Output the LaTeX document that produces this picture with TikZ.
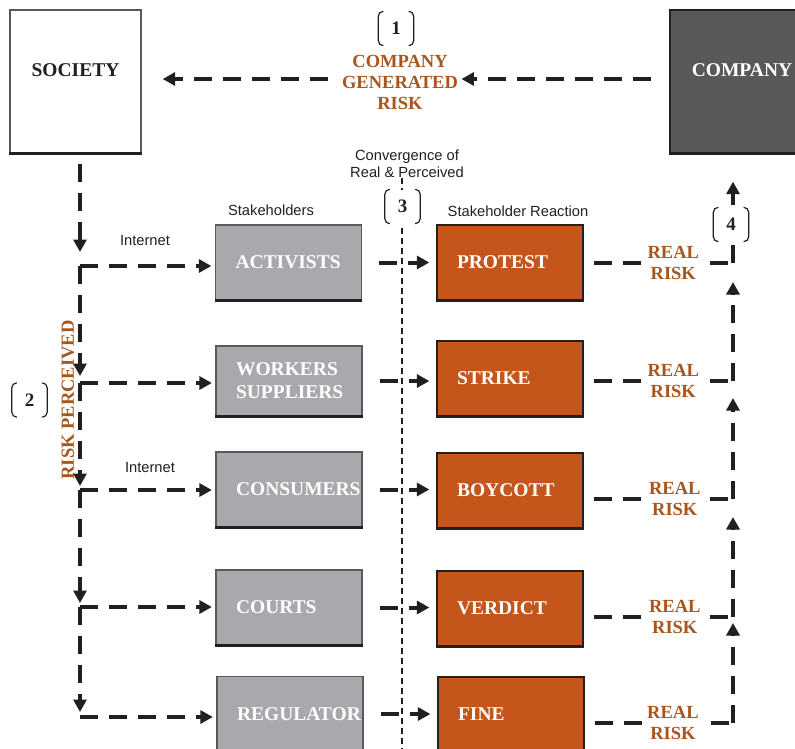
\documentclass[tikz,border=0pt]{standalone}
\usepackage{fontspec}
\setmainfont{Liberation Serif}
\newfontfamily\labelsans{Liberation Sans}
\usetikzlibrary{arrows.meta}

\definecolor{stakegray}{HTML}{A7A9AC}
\definecolor{reactorange}{HTML}{C4561B}
\definecolor{riskbrown}{HTML}{A9561E}
\definecolor{companygray}{HTML}{58595B}
\definecolor{inkblack}{HTML}{231F20}
\definecolor{frameline}{HTML}{58595B}

\tikzset{
  flowline/.style={draw=inkblack, line width=4pt, dash pattern=on 18pt off 11pt},
  flow/.style={flowline, -{Triangle[length=12.5pt,width=13pt]}},
  divider/.style={draw=inkblack, line width=1.3pt, dash pattern=on 6pt off 4pt},
  baseedge/.style={draw=inkblack, line width=2.6pt},
  boxtext/.style={font=\fontsize{19.5}{23}\selectfont\bfseries},
  basebox/.style={rectangle, minimum width=146pt, minimum height=75pt,
    inner xsep=20pt, inner ysep=0pt, text width=106pt, align=left,
    boxtext, text=white, line width=1.3pt},
  stakebox/.style={basebox, fill=stakegray, draw=frameline},
  reactbox/.style={basebox, fill=reactorange, draw=inkblack},
  riskword/.style={font=\fontsize{18.5}{21}\selectfont\bfseries, text=riskbrown, align=center},
  risklabel/.style={riskword, fill=white, inner xsep=4pt, inner ysep=1pt},
  note/.style={font=\labelsans\fontsize{14.7}{17}\selectfont, text=inkblack, align=center, inner sep=0pt},
  tag/.style={minimum width=35pt, minimum height=34pt, inner sep=0pt, fill=white,
    font=\fontsize{19}{19}\selectfont\bfseries, text=inkblack},
  tagline/.style={draw=inkblack, line width=1.2pt, rounded corners=5pt},
}

% square brackets drawn around a numbered tag
\newcommand\tagmarks[1]{%
  \draw[tagline] ([xshift=5pt]#1.north west) -- (#1.north west) -- (#1.south west) -- ([xshift=5pt]#1.south west);
  \draw[tagline] ([xshift=-5pt]#1.north east) -- (#1.north east) -- (#1.south east) -- ([xshift=-5pt]#1.south east);}

\begin{document}
\begin{tikzpicture}[x=1pt, y=-1pt]
\useasboundingbox (0,0) rectangle (795,748);
\clip (0,0) rectangle (795,748);
\fill[white] (0,0) rectangle (795,748);

% top row
\node[rectangle, minimum width=131pt, minimum height=143pt, fill=white, draw=frameline, line width=1.3pt,
      label={[boxtext, text=inkblack, yshift=11.5pt]center:SOCIETY}] (society) at (75.5,81.5) {};
\node[rectangle, minimum width=140pt, minimum height=143pt, fill=companygray, draw=inkblack, line width=1.3pt,
      label={[boxtext, text=white, yshift=11.5pt, xshift=2pt]center:COMPANY}] (company) at (740,81.5) {};
\node[riskword] (cgr) at (400,82) {COMPANY\\GENERATED\\RISK};

% stakeholders
\node[stakebox] (activists) at (288.5,262.5) {ACTIVISTS};
\node[stakebox, minimum height=70pt] (workers) at (289,381) {WORKERS\\SUPPLIERS};
\node[stakebox] (consumers) at (289,489.5) {CONSUMERS};
\node[stakebox] (courts) at (289,607.5) {COURTS};
\node[stakebox] (regulator) at (290,714) {REGULATOR};

% reactions
\node[reactbox] (protest) at (510,262.5) {PROTEST};
\node[reactbox] (strike) at (510,378.5) {STRIKE};
\node[reactbox] (boycott) at (510,490.5) {BOYCOTT};
\node[reactbox] (verdict) at (510,608.5) {VERDICT};
\node[reactbox] (fine) at (511,714.5) {FINE};

% heavier bottom edges
\foreach \n in {society,company,activists,workers,consumers,courts,regulator,protest,strike,boycott,verdict,fine}
  \draw[baseedge] (\n.south west) -- (\n.south east);

% captions
\node[note] (conv) at (407,163.5) {Convergence of\\Real \& Perceived};
\node[note] (stk) at (271,210) {Stakeholders};
\node[note] (rea) at (518,211) {Stakeholder Reaction};
\node[note] (net1) at (145,241) {Internet};
\node[note] (net2) at (150,468) {Internet};
\node[riskword, rotate=90] (perceived) at (68,400) {RISK PERCEIVED};

% generated risk flow
\draw[flow, shorten <=18pt] ([yshift=3pt]company.west |- cgr) -- ([yshift=3pt]cgr.east);
\draw[flow, shorten <=11pt, shorten >=21pt] ([yshift=3pt]cgr.west) -- ([yshift=3pt]cgr.west -| society.east);

% perceived risk distribution
\coordinate (l1) at (80,266);
\coordinate (l2) at (80,383);
\coordinate (l3) at (80,490);
\coordinate (l4) at (80,607);
\coordinate (l5) at (80,717);
\draw[flow, shorten <=10pt, shorten >=14pt] (society.south -| l1) -- (l1);
\draw[flow, shorten >=7pt] (l1) -- (l2);
\draw[flow, shorten >=4pt] (l2) -- (l3);
\draw[flow, shorten >=4pt] (l3) -- (l4);
\draw[flow, shorten >=5pt] (l4) -- (l5);
\draw[flow, shorten >=3.5pt] (l1) -- (l1 -| activists.west);
\draw[flow, shorten >=3.5pt] (l2) -- (l2 -| workers.west);
\draw[flow, shorten >=3.5pt] (l3) -- (l3 -| consumers.west);
\draw[flow, shorten >=3.5pt] (l4) -- (l4 -| courts.west);
\draw[flow, shorten >=3.5pt] (l5) -- (l5 -| regulator.west);

% convergence divider
\coordinate (dtop) at (402,178);
\coordinate (dbot) at (402,752);
\draw[divider] (dtop) -- (dbot);

% stakeholder to reaction
\draw[flow, shorten <=17pt, shorten >=7pt] (activists.east) -- (activists.east -| protest.west);
\draw[flow, shorten <=17pt, shorten >=7pt] (workers.east) -- (workers.east -| strike.west);
\draw[flow, shorten <=17pt, shorten >=7pt] (consumers.east) -- (consumers.east -| boycott.west);
\draw[flow, shorten <=17pt, shorten >=7pt] (courts.east) -- (courts.east -| verdict.west);
\draw[flow, shorten <=17pt, shorten >=7pt] (regulator.east) -- (regulator.east -| fine.west);

% real risk back to the company
\coordinate (r1) at (733,263);
\coordinate (r2) at (733,381);
\coordinate (r3) at (733,499);
\coordinate (r4) at (733,617);
\coordinate (r5) at (733,723);
\draw[flowline, shorten <=10pt] (protest.east |- r1) -- node[risklabel, pos=0.6] (rk1) {REAL\\RISK} (r1);
\draw[flowline, shorten <=10pt] (strike.east |- r2) -- node[risklabel, pos=0.6] (rk2) {REAL\\RISK} (r2);
\draw[flowline, shorten <=10pt] (boycott.east |- r3) -- node[risklabel, pos=0.61] (rk3) {REAL\\RISK} (r3);
\draw[flowline, shorten <=10pt] (verdict.east |- r4) -- node[risklabel, pos=0.61] (rk4) {REAL\\RISK} (r4);
\draw[flowline, shorten <=10pt] (fine.east |- r5) -- node[risklabel, pos=0.595] (rk5) {REAL\\RISK} (r5);
\draw[flow, shorten >=6pt] (r5) -- (r4);
\draw[flow, shorten >=18pt] (r4) -- (r3);
\draw[flow, shorten >=17pt] (r3) -- (r2);
\draw[flow, shorten >=19pt] (r2) -- (r1);
\draw[flow, shorten >=28pt] (r1) -- (r1 |- company.south);

% numbered tags
\node[tag] (t1) at (396,28.5) {1};
\node[tag] (t2) at (29.5,400) {2};
\node[tag] (t3) at (402.5,206.5) {3};
\node[tag] (t4) at (731,224.5) {4};
\tagmarks{t1}
\tagmarks{t2}
\tagmarks{t3}
\tagmarks{t4}
\end{tikzpicture}
\end{document}
